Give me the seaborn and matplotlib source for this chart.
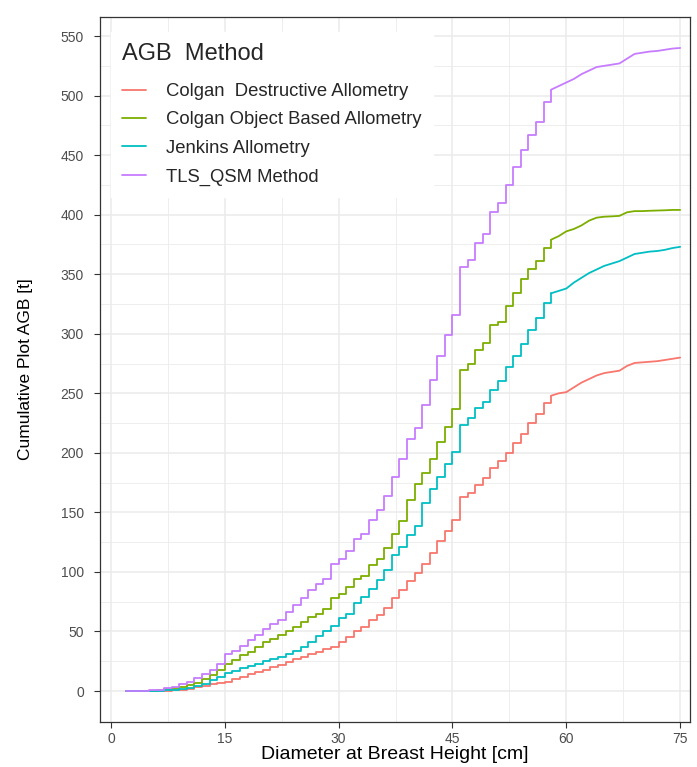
import numpy as np
import pandas as pd
import matplotlib
matplotlib.use("Agg")
import matplotlib.pyplot as plt
import seaborn as sns

# Diameter classes (cm) at which the cumulative curves step
dbh = list(range(2, 76))

# Cumulative plot AGB [t], one value per dbh
colgan_destructive = [0, 0, 0, 0, 0.1, 0.3, 0.7, 1.2, 2, 3, 4, 5.5, 7, 8, 10, 12, 14, 16, 18, 20,
                      22, 24, 26.5, 29, 31, 33, 35, 37, 41, 45, 50, 53.5, 60, 64, 70, 78, 85, 92,
                      99, 107, 116, 126, 134, 144, 163, 166, 173, 179, 187, 193, 200, 208, 216,
                      225, 233, 242, 248, 250, 251, 255, 259, 262, 265, 267, 268, 269, 273,
                      275.5, 276, 276.5, 277, 278, 279, 280]
colgan_object = [0, 0, 0.2, 0.4, 0.8, 1.4, 2.3, 3.5, 5, 7, 10, 13.5, 18, 22.5, 26, 30, 33, 37, 41,
                 44, 47, 50, 53.5, 58, 62, 65, 69, 78, 81.5, 87, 94, 97, 106, 111, 120, 132, 143,
                 160, 174, 183, 195, 209, 222, 237, 270, 275, 286, 292, 307, 310, 323, 334, 346,
                 354, 361, 372, 379, 382, 386, 388, 391, 395, 397.5, 398.3, 398.6, 399, 402,
                 403, 403, 403.3, 403.5, 403.7, 404, 404]
jenkins = [0, 0, 0, 0.1, 0.3, 0.6, 1, 1.7, 2.5, 4, 6, 9, 12, 15, 17, 19, 21, 23, 25, 27, 29,
           31.5, 34, 37, 41, 46, 50, 55, 61, 65, 74, 79, 86, 93, 102, 114, 121, 131, 139, 158,
           170, 180, 191, 201, 223, 229, 238, 243, 253, 260, 272, 281, 291, 303, 313, 326, 334,
           336, 338, 343, 347, 351, 354, 357, 359, 361, 364, 367, 368, 369, 369.5, 370.5, 372, 373]
tls_qsm = [0, 0, 0.3, 0.6, 1.2, 2.2, 3.8, 5.8, 8, 11, 14, 18, 23, 31, 34, 38, 43, 47, 52, 56, 60,
           66, 72, 78, 85, 90, 94, 107, 111, 118, 128, 132, 144, 152, 164, 180, 195, 212, 221,
           240, 261, 281, 299, 316, 356, 362, 376, 384, 402, 410, 425, 440, 454, 467, 478, 495,
           505, 508, 511, 514, 518, 521, 524, 525, 526, 527, 531, 535, 536, 537, 537.5, 538.5,
           539.5, 540]

# above this diameter trees are sparse and the curves run as plain lines
sparse_from = 58

methods = ["Colgan  Destructive Allometry", "Colgan Object Based Allometry",
           "Jenkins Allometry", "TLS_QSM Method"]
colors = ["#F8766D", "#7CAE00", "#00BFC4", "#C77CFF"]

frames = []
for name, vals in zip(methods, [colgan_destructive, colgan_object, jenkins, tls_qsm]):
    frames.append(pd.DataFrame({"dbh": dbh, "agb": vals, "method": name}))
df = pd.concat(frames, ignore_index=True)

sns.set_theme(style="white")
plt.rcParams["font.family"] = ["Liberation Sans", "DejaVu Sans"]

fig = plt.figure(figsize=(6.97, 7.67), dpi=100)
ax = fig.add_axes([100 / 697, 1 - 722 / 767, 590 / 697, 705 / 767])

sns.lineplot(data=df[df["dbh"] <= sparse_from], x="dbh", y="agb", hue="method",
             hue_order=methods, palette=colors, estimator=None, drawstyle="steps-post",
             linewidth=1.3, ax=ax)
sns.lineplot(data=df[df["dbh"] >= sparse_from], x="dbh", y="agb", hue="method",
             hue_order=methods, palette=colors, estimator=None, linewidth=1.3,
             legend=False, ax=ax)

ax.set_xlim(-1.45, 76.3)
ax.set_ylim(-26, 566)
ax.set_xticks(np.arange(0, 76, 15))
ax.set_xticks(np.arange(7.5, 76, 15), minor=True)
ax.set_yticks(np.arange(0, 551, 50))
ax.set_yticks(np.arange(25, 551, 50), minor=True)
ax.grid(which="major", color="#EBEBEB", linewidth=1.1)
ax.grid(which="minor", color="#EBEBEB", linewidth=0.6)
ax.set_axisbelow(True)
for s in ax.spines.values():
    s.set_color("#333333")
    s.set_linewidth(0.9)
ax.tick_params(which="major", length=4.5, width=0.8, color="#333333",
               labelsize=10, labelcolor="#4D4D4D", left=True, bottom=True)
ax.tick_params(axis="y", pad=7)
ax.tick_params(axis="x", pad=3)
ax.tick_params(which="minor", length=0)

ax.set_xlabel("Diameter at Breast Height [cm]", fontsize=14, color="black", labelpad=0)
ax.set_ylabel("Cumulative Plot AGB [t]", fontsize=12.5, color="black", labelpad=20)

leg = ax.legend(title="AGB  Method", loc="upper left", bbox_to_anchor=(0.003, 0.992),
                fontsize=13.3, title_fontsize=17, frameon=True, facecolor="white",
                edgecolor="white", framealpha=1, fancybox=False, handlelength=1.3,
                handletextpad=1.1, labelspacing=0.62, borderpad=0.6, alignment="left")
leg._legend_box.sep = 13
for line in leg.get_lines():
    line.set_linewidth(1.3)

fig.savefig("out.png", dpi=100)
